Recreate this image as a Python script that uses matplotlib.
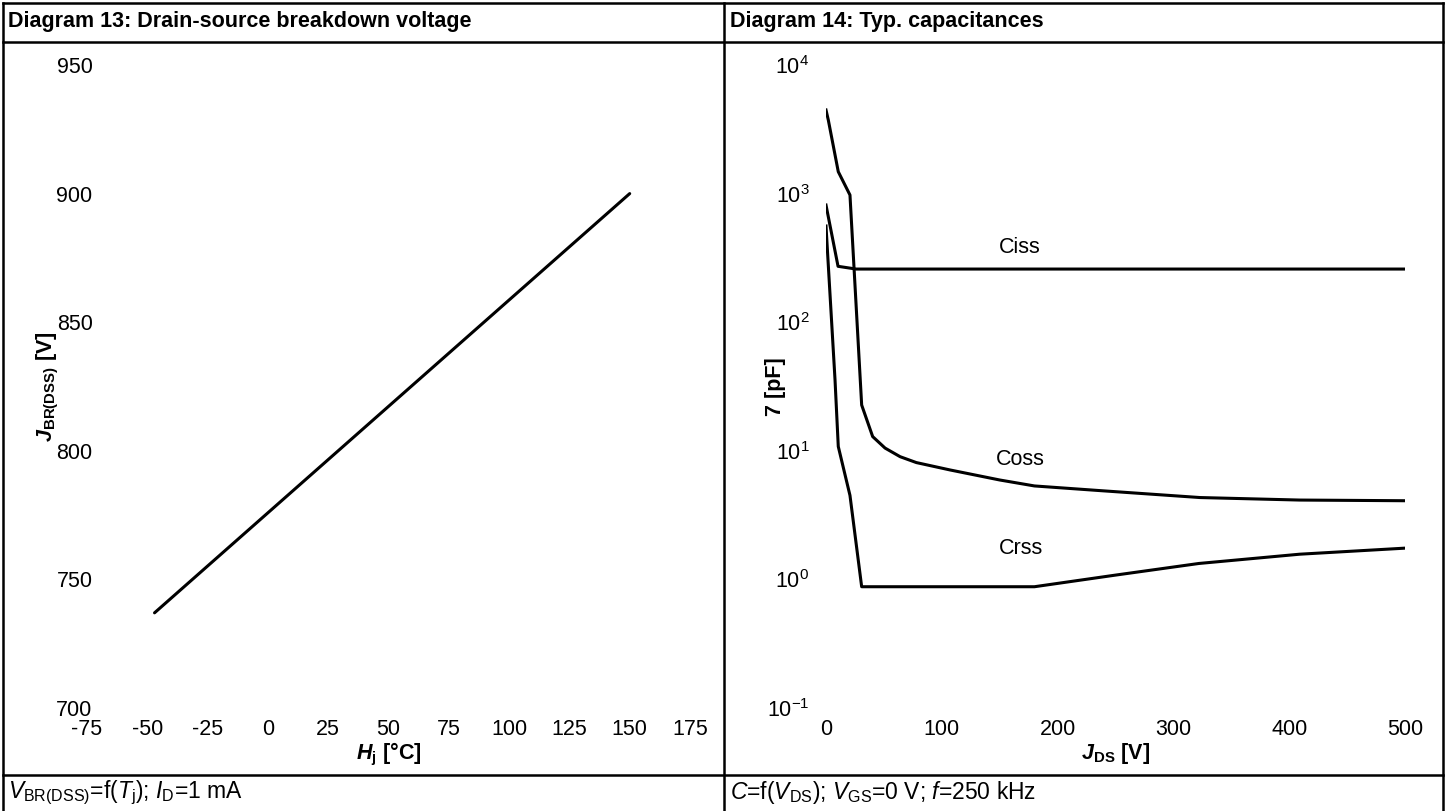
import matplotlib
matplotlib.use("Agg")
import matplotlib.pyplot as plt
from matplotlib.lines import Line2D
import numpy as np

plt.rcParams['font.family'] = ['Liberation Sans', 'DejaVu Sans']
plt.rcParams['mathtext.fontset'] = 'custom'
plt.rcParams['mathtext.rm'] = 'Liberation Sans'
plt.rcParams['mathtext.it'] = 'Liberation Sans:italic'
plt.rcParams['mathtext.bf'] = 'Liberation Sans:bold'
plt.rcParams['mathtext.bfit'] = 'Liberation Sans:bold:italic'
plt.rcParams['mathtext.sf'] = 'Liberation Sans'

# ---------------- data ----------------
# Diagram 13
tj_vals = [-47, 150]
vbr_vals = [737, 900]
left_xticks = [-75, -50, -25, 0, 25, 50, 75, 100, 125, 150, 175]
left_yticks = [700, 750, 800, 850, 900, 950]

# Diagram 14
ciss_v = [0, 10.4, 26, 500]
ciss_c = [815, 272, 259, 259]
coss_v = [0, 2, 10.6, 20.7, 30.8, 40.3, 51, 64, 78, 107, 150, 180, 237, 323, 409, 500]
coss_c = [4470, 3730, 1480, 975, 22.7, 12.9, 10.5, 9.0, 8.1, 7.1, 5.93, 5.33, 4.9, 4.33, 4.14, 4.09]
crss_v = [0, 7.8, 10.6, 20.7, 30.8, 180, 250, 322, 409, 500]
crss_c = [560, 35.5, 10.8, 4.5, 0.877, 0.877, 1.08, 1.33, 1.57, 1.75]
right_xticks = [0, 100, 200, 300, 400, 500]
right_yticks = [0.1, 1, 10, 100, 1000, 10000]
right_yticklabels = [r'$10^{-1}$', r'$10^{0}$', r'$10^{1}$', r'$10^{2}$', r'$10^{3}$', r'$10^{4}$']
curve_labels = ['Ciss', 'Coss', 'Crss']
curve_label_pos = [(167, 380), (168, 8.5), (168, 1.75)]

W, H = 1445, 811
fig = plt.figure(figsize=(W / 100, H / 100), dpi=100)

def fx(px):
    return px / W

def fy(py):
    return 1 - py / H

FS = 15.5
FS_FOOT = 16.5

# ---------------- table borders ----------------
lw_border = 1.8
for (x0, y0, x1, y1) in [
    (3, 3, 1443, 3),        # top
    (3, 42, 1443, 42),      # header separator
    (3, 775, 1443, 775),    # footer separator
    (3, 3, 3, 811),         # left
    (724, 3, 724, 811),     # middle
    (1443, 3, 1443, 811),   # right
]:
    fig.add_artist(Line2D([fx(x0), fx(x1)], [fy(y0), fy(y1)], color='black',
                          lw=lw_border, solid_capstyle='projecting',
                          transform=fig.transFigure))

# headers
fig.text(fx(8), fy(22), 'Diagram 13: Drain-source breakdown voltage', fontsize=FS,
         fontweight='bold', va='center', ha='left')
fig.text(fx(730), fy(22), 'Diagram 14: Typ. capacitances', fontsize=FS,
         fontweight='bold', va='center', ha='left')

# footers
fig.text(fx(8), fy(793),
         r'$\mathit{V}_{\mathrm{BR(DSS)}}$=f($\mathit{T}_{\mathrm{j}}$); $\mathit{I}_{\mathrm{D}}$=1 mA',
         fontsize=FS_FOOT, va='center', ha='left')
fig.text(fx(730), fy(793),
         r'$\mathit{C}$=f($\mathit{V}_{\mathrm{DS}}$); $\mathit{V}_{\mathrm{GS}}$=0 V; $\mathit{f}$=250 kHz',
         fontsize=FS_FOOT, va='center', ha='left')

# ---------------- left axes ----------------
axL = fig.add_axes([fx(87), fy(708), fx(690 - 87), (708 - 65) / H])
axL.plot(tj_vals, vbr_vals, color='black', lw=2.2, solid_capstyle='round')
axL.set_xlim(-75, 175)
axL.set_ylim(700, 950)
axL.set_xticks(left_xticks)
axL.set_xticklabels([str(v) for v in left_xticks])
axL.set_yticks(left_yticks)
axL.set_yticklabels([str(v) for v in left_yticks])
axL.tick_params(axis='both', length=0, labelsize=FS)
axL.tick_params(axis='y', pad=-4)
axL.tick_params(axis='x', pad=8)
for s in axL.spines.values():
    s.set_visible(False)
axL.set_xlabel(r'$\mathbfit{H}_{\mathbf{j}}$ [°C]', fontsize=FS, fontweight='bold')
axL.xaxis.set_label_coords(0.5, -(754 - 708) / 643)
axL.xaxis.label.set_va('center')
axL.set_ylabel(r'$\mathbfit{J}_{\mathbf{BR(DSS)}}$ [V]', fontsize=FS, fontweight='bold')
axL.yaxis.set_label_coords((48 - 87) / 603, 0.5)
axL.yaxis.label.set_va('center')

# ---------------- right axes ----------------
axR = fig.add_axes([fx(826), fy(708), fx(1405 - 826), (708 - 65) / H])
axR.set_yscale('log')
axR.plot(ciss_v, ciss_c, color='black', lw=2.2)
axR.plot(coss_v, coss_c, color='black', lw=2.2)
axR.plot(crss_v, crss_c, color='black', lw=2.2)
for lab, (lx, ly) in zip(curve_labels, curve_label_pos):
    axR.text(lx, ly, lab, fontsize=FS, ha='center', va='center')
axR.set_xlim(0, 500)
axR.set_ylim(0.1, 10000)
axR.set_xticks(right_xticks)
axR.set_xticklabels([str(v) for v in right_xticks])
axR.set_yticks(right_yticks)
axR.set_yticklabels(right_yticklabels)
axR.yaxis.set_minor_locator(matplotlib.ticker.NullLocator())
axR.tick_params(axis='both', length=0, labelsize=FS)
axR.tick_params(axis='y', pad=12)
axR.tick_params(axis='x', pad=8)
for s in axR.spines.values():
    s.set_visible(False)
axR.set_xlabel(r'$\mathbfit{J}_{\mathbf{DS}}$ [V]', fontsize=FS, fontweight='bold')
axR.xaxis.set_label_coords(0.5, -(754 - 708) / 643)
axR.xaxis.label.set_va('center')
axR.set_ylabel('7 [pF]', fontsize=FS, fontweight='bold')
axR.yaxis.set_label_coords((775 - 826) / 579, 0.5)
axR.yaxis.label.set_va('center')

fig.savefig('out.png', dpi=100)
